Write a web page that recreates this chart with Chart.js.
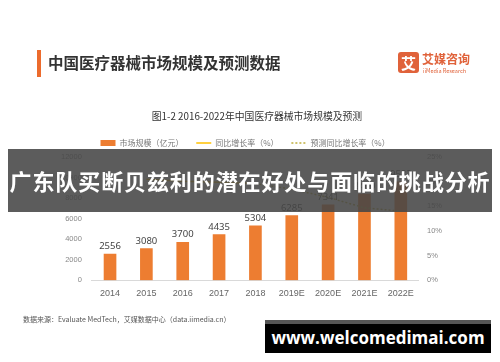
<!DOCTYPE html>
<html>
<head>
<meta charset="utf-8">
<script src="https://cdn.jsdelivr.net/npm/chart.js@4.4.0/dist/chart.umd.min.js"></script>
<style>
  body { margin: 0; background: #fff; font-family: "Noto Sans CJK SC", "Noto Sans", sans-serif; }
  #wrap { position: relative; width: 500px; height: 362px; overflow: hidden; background: #fff; }
  #myChart { position: absolute; left: 0; top: 0; }
  .titleBar { position: absolute; left: 37px; top: 50px; width: 4px; height: 27px; background: #ec6b2d; }
  .title { position: absolute; left: 48px; top: 51px; font-size: 15.5px; font-weight: bold; color: #333; }
  .logoBox { position: absolute; left: 398px; top: 52px; width: 21px; height: 21px; background: #e0623a; border-radius: 3px; color: #fff; font-size: 15px; font-weight: bold; text-align: center; line-height: 21px; }
  .logoText { position: absolute; left: 422px; top: 50px; font-size: 12px; font-weight: bold; color: #e0623a; }
  .logoSub { position: absolute; left: 423px; top: 67px; font-size: 5.5px; color: #e0623a; }
  .subTitle { position: absolute; left: 0; width: 514px; top: 109px; text-align: center; font-size: 9.8px; color: #333; }
  .source { position: absolute; left: 23px; top: 314px; font-size: 7px; color: #555; }
  .banner { position: absolute; left: 8px; top: 149px; width: 484px; height: 63px; background: rgba(70,70,70,0.88); color: #fff; font-size: 22px; font-weight: bold; line-height: 63px; text-align: center; white-space: nowrap; letter-spacing: 0.9px; }
  .site { position: absolute; left: 265px; top: 320px; width: 226px; height: 33px; background: #000; border-top: 4px solid #555; box-sizing: border-box; color: #fff; font-family: "Open Sans", sans-serif; font-size: 17px; font-weight: bold; line-height: 28px; text-align: center; white-space: nowrap; }
</style>
</head>
<body>
<div id="wrap">
  <canvas id="myChart" width="500" height="362"></canvas>
  <div class="titleBar"></div>
  <div class="title">中国医疗器械市场规模及预测数据</div>
  <div class="logoBox">艾</div>
  <div class="logoText">艾媒咨询</div>
  <div class="logoSub">iiMedia Research</div>
  <div class="subTitle">图1-2 2016-2022年中国医疗器械市场规模及预测</div>
  <div class="source">数据来源：Evaluate MedTech，艾媒数据中心（data.iimedia.cn）</div>
  <div class="banner">广东队买断贝兹利的潜在好处与面临的挑战分析</div>
  <div class="site">www.welcomedimai.com</div>
</div>
<script>
// data
const years = ['2014', '2015', '2016', '2017', '2018', '2019E', '2020E', '2021E', '2022E']
const marketSize = [2556, 3080, 3700, 4435, 5304, 6285, 7341, 8400, 9582]
const growthRate = [null, 20.5, 20.1, 19.9, 19.6, null, null, null, null]
const forecastRate = [null, null, null, null, 19.6, 18.5, 16.8, 14.7, 14.0]
const leftTicks = [0, 2000, 4000, 6000, 8000, 10000, 12000]
const rightTicks = [0, 5, 10, 15, 20, 25]

// draw the value above each bar
const barLabels = {
    id: 'barLabels',
    afterDatasetsDraw(chart) {
        const ctx = chart.ctx
        const meta = chart.getDatasetMeta(0)
        ctx.save()
        ctx.font = '9.5px "Noto Sans", sans-serif'
        ctx.fillStyle = '#444'
        ctx.textAlign = 'center'
        ctx.textBaseline = 'bottom'
        meta.data.forEach((bar, i) => {
            ctx.fillText(marketSize[i], bar.x, bar.y - 3)
        })
        ctx.restore()
    }
}

const ctx = document.getElementById('myChart').getContext('2d')
const myChart = new Chart(ctx, {
    type: 'bar',
    data: {
        labels: years,
        datasets: [
            {
                label: '市场规模（亿元）',
                data: marketSize,
                backgroundColor: '#ed7d31',
                barThickness: 12,
                yAxisID: 'y',
                order: 2
            },
            {
                type: 'line',
                label: '同比增长率（%）',
                data: growthRate,
                borderColor: '#ffc000',
                backgroundColor: '#ffc000',
                borderWidth: 1.5,
                pointRadius: 0,
                yAxisID: 'y1',
                order: 1
            },
            {
                type: 'line',
                label: '预测同比增长率（%）',
                data: forecastRate,
                borderColor: '#bfae3c',
                backgroundColor: '#bfae3c',
                borderWidth: 1.5,
                borderDash: [2, 2],
                pointRadius: 0,
                yAxisID: 'y1',
                order: 1
            }
        ]
    },
    options: {
        responsive: false,
        animation: false,
        layout: { padding: { left: 51, right: 50, top: 137, bottom: 55 } },
        plugins: {
            tooltip: { enabled: false },
            legend: {
                position: 'top',
                labels: {
                    usePointStyle: true,
                    pointStyleWidth: 15,
                    boxHeight: 6,
                    padding: 2,
                    color: '#777',
                    font: { size: 8, family: '"Noto Sans CJK SC", sans-serif' },
                    generateLabels(chart) {
                        return chart.data.datasets.map((ds, i) => ({
                            text: ds.label + '      ',
                            pointStyle: ds.type === 'line' ? 'line' : 'rect',
                            fillStyle: ds.backgroundColor,
                            strokeStyle: ds.type === 'line' ? ds.borderColor : ds.backgroundColor,
                            lineWidth: ds.type === 'line' ? 1.5 : 0,
                            lineDash: ds.borderDash || [],
                            fontColor: '#777',
                            datasetIndex: i
                        }))
                    }
                }
            }
        },
        scales: {
            x: {
                grid: { display: false, drawTicks: false },
                border: { color: '#d9d9d9' },
                ticks: { color: '#666', padding: 8, font: { size: 9 } }
            },
            y: {
                position: 'left',
                min: 0,
                max: 12000,
                afterBuildTicks(axis) { axis.ticks = leftTicks.map(v => ({ value: v })) },
                grid: { display: false, drawTicks: false },
                border: { display: false },
                ticks: { color: '#888', padding: 10, font: { size: 7.5 }, callback: v => String(v) }
            },
            y1: {
                position: 'right',
                min: 0,
                max: 25,
                afterBuildTicks(axis) { axis.ticks = rightTicks.map(v => ({ value: v })) },
                grid: { display: false, drawTicks: false },
                border: { display: false },
                ticks: { color: '#888', padding: 8, font: { size: 7.5 }, callback: v => v + '%' }
            }
        }
    },
    plugins: [barLabels]
})
</script>
</body>
</html>
